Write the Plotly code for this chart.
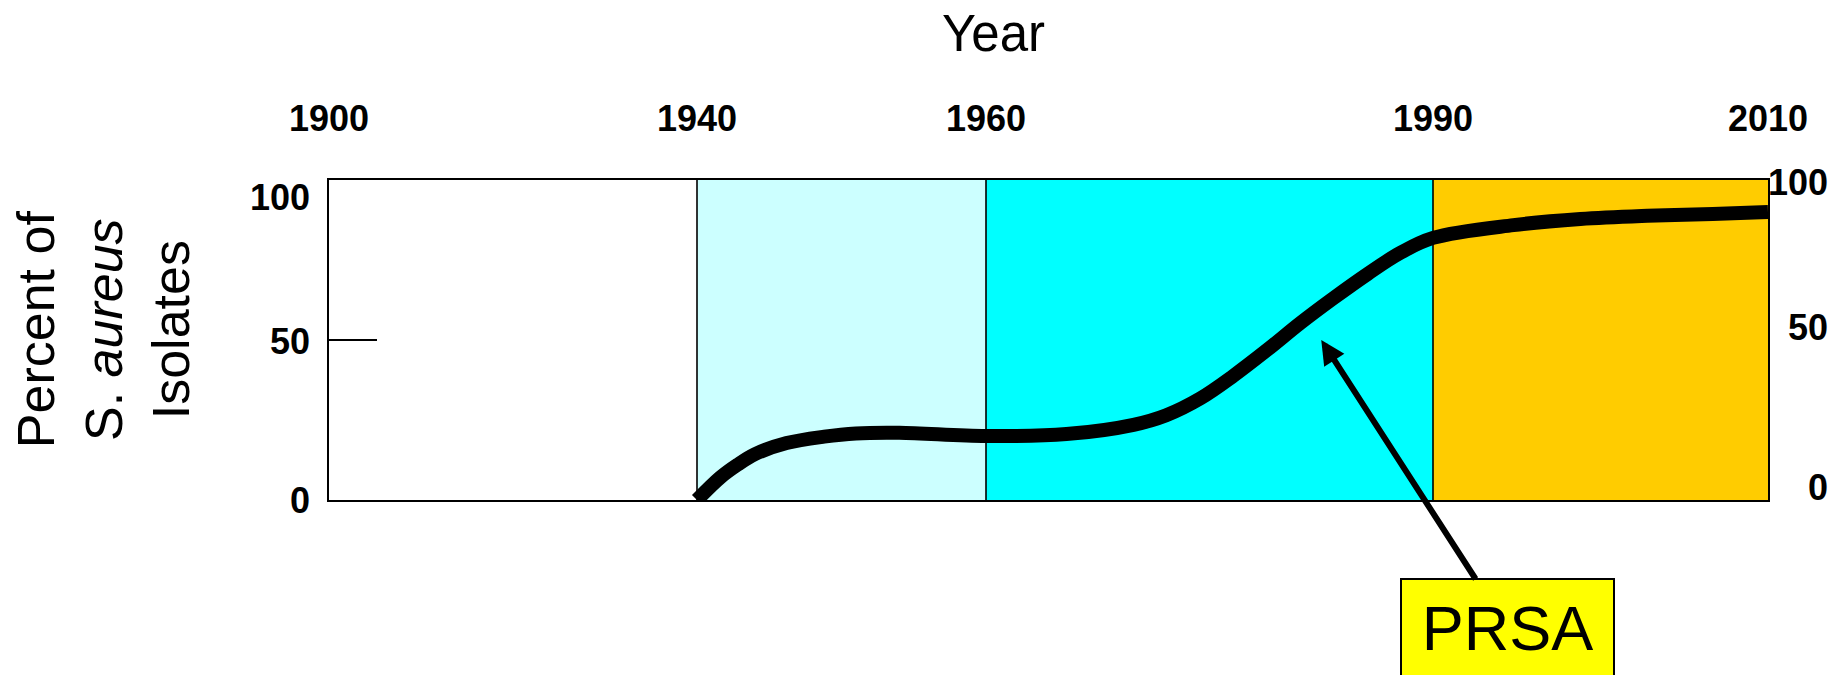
import numpy as np
import plotly.graph_objects as go

# Antibiotic eras shown along the top axis
era_years = [1900, 1940, 1960, 1990, 2010]
era_colors = ["#FFFFFF", "#CCFFFF", "#00FFFF", "#FFCC00"]

# Penicillin-resistant S. aureus, percent of isolates by year
prsa_years = [1940.0, 1941.6, 1942.8, 1944.0, 1946.2, 1948.8, 1951.0, 1954.0,
              1960.0, 1965.4, 1969.9, 1972.1, 1974.4, 1976.6, 1978.9, 1981.1,
              1983.3, 1985.6, 1987.8, 1990.0, 1994.8, 1998.8, 2002.8, 2006.7,
              2010.0]
prsa_pct = [0.0, 7.0, 11.0, 14.3, 17.8, 19.8, 20.8, 21.0,
            20.0, 20.6, 23.5, 26.5, 31.8, 38.8, 47.0, 55.3,
            63.0, 70.6, 77.2, 81.9, 85.9, 87.8, 88.8, 89.4,
            90.0]

pct_ticks = [0, 50, 100]

# Where each era boundary sits along the horizontal axis (eras are not drawn to scale)
ERA_POS = [0, 368, 657, 1104, 1439]


def to_axis(years):
    return np.interp(years, era_years, ERA_POS)


FONT = "Liberation Sans, Arial, sans-serif"

fig = go.Figure()
fig.add_trace(go.Scatter(
    x=to_axis(prsa_years), y=prsa_pct, mode="lines",
    line=dict(color="black", width=14, shape="spline", smoothing=1.0),
    hoverinfo="skip", showlegend=False,
))

shapes = []
era_x = to_axis(era_years)
for i, color in enumerate(era_colors):
    shapes.append(dict(type="rect", xref="x", yref="y", x0=era_x[i], x1=era_x[i + 1],
                       y0=0, y1=100, fillcolor=color, line=dict(width=0), layer="below"))
for xb in era_x[1:-1]:
    shapes.append(dict(type="line", xref="x", yref="y", x0=xb, x1=xb, y0=0, y1=100,
                       line=dict(color="black", width=1.6), layer="below"))

annotations = []
# Left percent labels
left_shift = {0: 0, 50: -1, 100: -17}
for v in pct_ticks:
    annotations.append(dict(x=0, xref="paper", y=v, yref="y", text=f"<b>{v}</b>",
                            showarrow=False, xanchor="right", yanchor="middle",
                            xshift=-17, yshift=left_shift[v],
                            font=dict(family=FONT, size=36, color="black")))
# Right percent labels
right_shift = {0: 13, 50: 13, 100: -2}
for v in pct_ticks:
    annotations.append(dict(x=1, xref="paper", y=v, yref="y", text=f"<b>{v}</b>",
                            showarrow=False, xanchor="right", yanchor="middle",
                            xshift=62, yshift=right_shift[v],
                            font=dict(family=FONT, size=36, color="black")))
# Axis titles
annotations.append(dict(x=0.462, xref="paper", y=1.458, yref="paper", text="Year",
                        showarrow=False, xanchor="center", yanchor="middle",
                        font=dict(family=FONT, size=51, color="black")))
annotations.append(dict(x=-0.157, xref="paper", y=0.534, yref="paper",
                        text="Percent of<br>S. <i>aureus</i><br>Isolates",
                        textangle=-90, showarrow=False, xanchor="center", yanchor="middle",
                        font=dict(family=FONT, size=52, color="black")))
# PRSA callout
annotations.append(dict(x=to_axis([1982.5])[0], xref="x", y=50, yref="y",
                        text="PRSA", showarrow=True, ax=186, ay=288,
                        arrowhead=2, arrowsize=0.8, arrowwidth=6, arrowcolor="black",
                        standoff=0, bgcolor="#FFFF00", bordercolor="black", borderwidth=2,
                        borderpad=0, width=211, height=96,
                        font=dict(family=FONT, size=63, color="black")))

fig.update_layout(
    width=1847, height=675,
    margin=dict(l=329, r=79, t=180, b=175, autoexpand=False),
    paper_bgcolor="white", plot_bgcolor="white",
    shapes=shapes, annotations=annotations,
    xaxis=dict(range=[ERA_POS[0], ERA_POS[-1]], side="top",
               tickvals=era_x, ticktext=[str(y) for y in era_years],
               ticks="", ticklabelstandoff=33,
               tickfont=dict(family=FONT, size=36, color="black", weight="bold"),
               showgrid=False, zeroline=False,
               showline=True, mirror=True, linecolor="black", linewidth=2),
    yaxis=dict(range=[0, 100], tickvals=[50], ticks="inside", ticklen=48,
               tickwidth=2, tickcolor="black", showticklabels=False,
               showgrid=False, zeroline=False,
               showline=True, mirror=True, linecolor="black", linewidth=2),
)

fig.write_html("out.html")
